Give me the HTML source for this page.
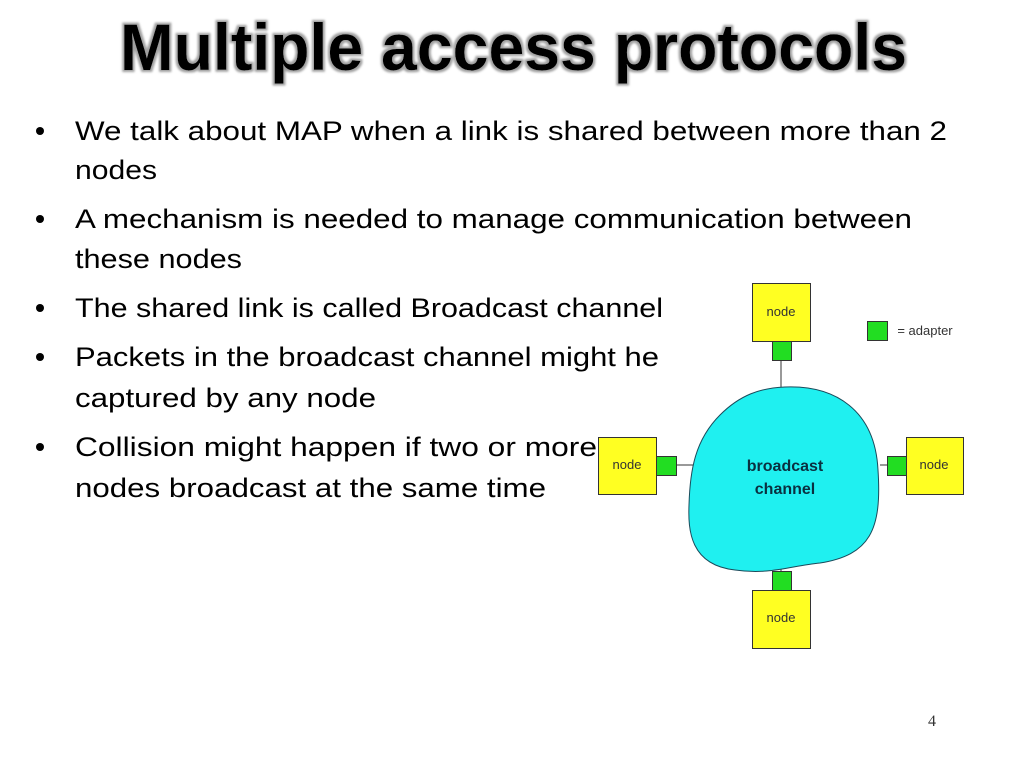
<!DOCTYPE html>
<html><head><meta charset="utf-8"><style>
html,body{margin:0;padding:0;background:#fff;}
svg{display:block;}
</style></head><body>
<svg width="1024" height="768" viewBox="0 0 1024 768" xmlns="http://www.w3.org/2000/svg">
<rect width="1024" height="768" fill="#fff"/>
<defs><filter id="sh" x="-5%" y="-20%" width="110%" height="140%"><feMorphology operator="dilate" radius="2" in="SourceAlpha" result="d"/><feFlood flood-color="#a0a0a0"/><feComposite in2="d" operator="in" result="g"/><feGaussianBlur in="g" stdDeviation="1" result="b"/><feMerge><feMergeNode in="b"/><feMergeNode in="SourceGraphic"/></feMerge></filter></defs>
<text x="120" y="70" font-family="Liberation Sans, sans-serif" font-weight="bold" font-size="66" textLength="787" lengthAdjust="spacingAndGlyphs" fill="#000" filter="url(#sh)">Multiple access protocols</text>
<g font-family="Liberation Sans, sans-serif" font-size="27" fill="#000">
<circle cx="40" cy="131" r="4"/><circle cx="40" cy="219" r="4"/><circle cx="40" cy="308" r="4"/><circle cx="40" cy="357" r="4"/><circle cx="40" cy="447" r="4"/>
<text x="75" y="140" textLength="872" lengthAdjust="spacingAndGlyphs">We talk about MAP when a link is shared between more than 2</text>
<text x="75" y="179" textLength="82" lengthAdjust="spacingAndGlyphs">nodes</text>
<text x="75" y="228" textLength="837" lengthAdjust="spacingAndGlyphs">A mechanism is needed to manage communication between</text>
<text x="75" y="268" textLength="167" lengthAdjust="spacingAndGlyphs">these nodes</text>
<text x="75" y="317" textLength="588" lengthAdjust="spacingAndGlyphs">The shared link is called Broadcast channel</text>
<text x="75" y="366" textLength="584" lengthAdjust="spacingAndGlyphs">Packets in the broadcast channel might he</text>
<text x="75" y="407" textLength="301" lengthAdjust="spacingAndGlyphs">captured by any node</text>
<text x="75" y="456" textLength="522" lengthAdjust="spacingAndGlyphs">Collision might happen if two or more</text>
<text x="75" y="497" textLength="471" lengthAdjust="spacingAndGlyphs">nodes broadcast at the same time</text>
</g>
<g stroke="#333" stroke-width="1">
<line x1="781" y1="360" x2="781" y2="390"/>
<line x1="676" y1="465" x2="693" y2="465"/>
<line x1="880" y1="465" x2="887" y2="465"/>
<line x1="781" y1="565" x2="781" y2="571"/>
</g>
<path d="M785 387 C835 385 875 410 878 470 C882 530 870 555 820 563 C790 566 770 575 735 570 C690 565 688 530 689 505 C690 470 695 440 720 415 C740 395 760 388 785 387 Z" fill="#1ff0f0" stroke="#1a4a5a" stroke-width="1"/>
<g font-family="Liberation Sans, sans-serif" font-weight="bold" font-size="16" fill="#0a3040" text-anchor="middle">
<text x="785" y="471">broadcast</text><text x="785" y="494">channel</text></g>
<g fill="#ffff22" stroke="#333" stroke-width="1">
<rect x="752.5" y="283.5" width="58" height="58"/>
<rect x="598.5" y="437.5" width="58" height="57"/>
<rect x="906.5" y="437.5" width="57" height="57"/>
<rect x="752.5" y="590.5" width="58" height="58"/>
</g>
<g fill="#22dd22" stroke="#333" stroke-width="1">
<rect x="772.5" y="341.5" width="19" height="19"/>
<rect x="656.5" y="456.5" width="20" height="19"/>
<rect x="887.5" y="456.5" width="19" height="19"/>
<rect x="772.5" y="571.5" width="19" height="19"/>
<rect x="867.5" y="321.5" width="20" height="19"/>
</g>
<g font-family="Liberation Sans, sans-serif" font-size="13" fill="#333" text-anchor="middle">
<text x="781" y="316">node</text><text x="627" y="469">node</text><text x="934" y="469">node</text><text x="781" y="622">node</text>
<text x="925" y="335">= adapter</text></g>
<text x="932" y="726" font-family="Liberation Serif, serif" font-size="16" fill="#333" text-anchor="middle">4</text>
</svg>
</body></html>
